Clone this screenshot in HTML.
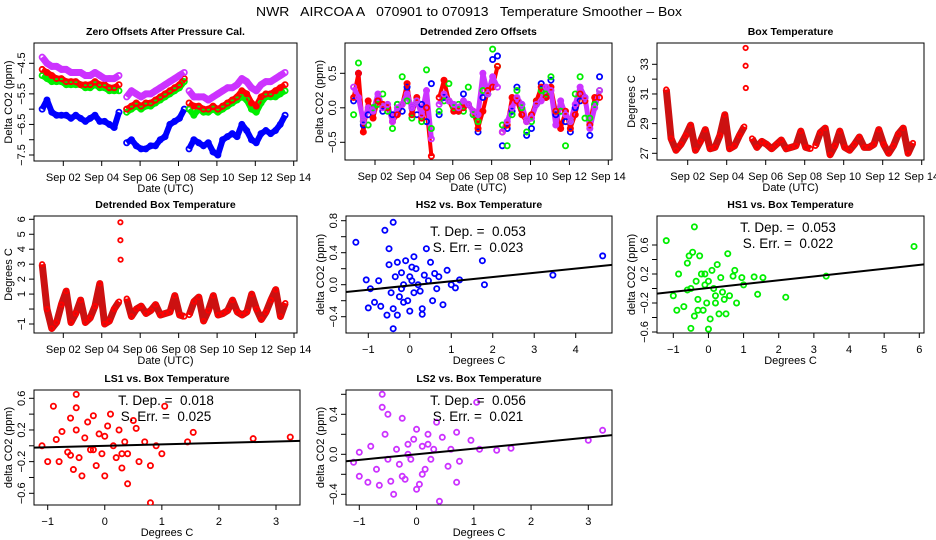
<!DOCTYPE html>
<html><head><meta charset="utf-8"><style>
html,body{margin:0;padding:0;background:#fff;}
svg{display:block;font-family:"Liberation Sans",sans-serif;}
</style></head><body>
<svg id="chart" width="936" height="540" viewBox="0 0 936 540">
<text x="469" y="16" text-anchor="middle" font-size="13" style="white-space:pre" xml:space="preserve" textLength="426" lengthAdjust="spacingAndGlyphs">NWR   AIRCOA A   070901 to 070913   Temperature Smoother – Box</text>
</svg>
<script>
// ---------- shared time base (days of Sep 2007) ----------
const times = [0.9,1.15,1.4,1.65,1.9,2.15,2.4,2.65,2.9,3.15,3.4,3.65,3.9,4.15,4.4,4.65,4.9,
 5.3,5.55,5.8,6.05,6.3,6.55,6.8,7.05,7.3,7.55,7.8,8.05,8.3,
 8.55,8.8,9.05,9.3,9.55,9.8,10.05,10.3,10.55,10.8,11.05,11.3,11.55,11.8,12.05,12.3,12.55,12.8,13.05,13.3,13.55];
const segBreaks = [17,30];
const dateTicks = [2,4,6,8,10,12,14];
const dateLabels = ["Sep 02","Sep 04","Sep 06","Sep 08","Sep 10","Sep 12","Sep 14"];

// ---------- Zero offsets after pressure cal ----------
const zeroHS2 = [-6.0,-5.7,-6.1,-6.2,-6.2,-6.2,-6.3,-6.2,-6.3,-6.4,-6.3,-6.2,-6.4,-6.4,-6.5,-6.6,-6.1,
 -7.1,-7.0,-7.2,-7.3,-7.3,-7.2,-7.2,-7.0,-6.9,-6.5,-6.4,-6.3,-6.0,
 -7.3,-7.0,-7.1,-7.2,-7.1,-7.4,-7.5,-7.0,-6.9,-6.8,-6.9,-6.5,-6.7,-7.0,-7.1,-6.8,-6.7,-6.8,-6.7,-6.5,-6.2];
const zeroHS1 = [-4.9,-5.0,-5.1,-5.1,-5.1,-5.2,-5.2,-5.2,-5.2,-5.3,-5.3,-5.2,-5.3,-5.3,-5.4,-5.4,-5.4,
 -6.1,-6.0,-5.9,-6.0,-5.9,-5.9,-5.8,-5.7,-5.6,-5.5,-5.4,-5.3,-5.1,
 -6.0,-6.2,-6.0,-6.1,-6.1,-6.0,-6.1,-6.0,-5.9,-5.8,-5.7,-5.6,-5.7,-6.0,-6.1,-5.8,-5.6,-5.6,-5.6,-5.5,-5.4];
const zeroLS1 = [-4.7,-4.8,-4.9,-5.0,-5.0,-5.1,-5.1,-5.1,-5.2,-5.2,-5.2,-5.1,-5.2,-5.2,-5.3,-5.3,-5.2,
 -6.0,-5.9,-5.8,-5.9,-5.8,-5.8,-5.7,-5.6,-5.5,-5.4,-5.3,-5.2,-5.0,
 -5.8,-5.9,-5.9,-6.0,-6.0,-5.9,-6.0,-5.9,-5.8,-5.7,-5.6,-5.4,-5.5,-5.8,-5.9,-5.6,-5.5,-5.5,-5.4,-5.3,-5.2];
const zeroLS2 = [-4.3,-4.5,-4.6,-4.6,-4.7,-4.7,-4.8,-4.8,-4.8,-4.9,-4.9,-4.8,-4.9,-5.0,-5.0,-5.0,-4.9,
 -5.6,-5.4,-5.5,-5.6,-5.5,-5.5,-5.4,-5.3,-5.2,-5.1,-5.0,-4.9,-4.8,
 -5.4,-5.6,-5.6,-5.6,-5.7,-5.6,-5.5,-5.4,-5.3,-5.3,-5.2,-5.0,-5.1,-5.3,-5.4,-5.2,-5.1,-5.1,-5.0,-4.9,-4.8];

// ---------- Detrended zero offsets ----------
const detHS2 = [0.1,0.5,-0.25,-0.1,0.0,0.1,-0.05,0.0,-0.1,0.05,-0.05,0.3,0.0,-0.1,0.05,-0.2,0.35,
 -0.1,0.15,0.1,0.0,-0.05,0.2,0.05,-0.1,-0.35,0.15,0.2,0.7,0.75,
 -0.55,-0.3,-0.05,0.3,0.05,-0.4,-0.3,0.05,0.35,0.15,0.4,-0.1,-0.05,-0.2,-0.35,0.0,0.1,0.15,-0.4,0.05,0.45];
const detHS1 = [-0.1,0.65,-0.2,-0.25,0.0,0.05,0.2,-0.05,-0.3,0.05,0.45,0.1,-0.15,0.1,-0.2,0.55,-0.3,
 -0.05,0.1,0.35,0.0,0.05,-0.05,0.3,-0.1,-0.2,0.25,0.2,0.85,0.6,
 -0.25,-0.55,-0.1,0.25,0.0,-0.35,-0.2,0.1,0.25,0.2,0.45,-0.05,-0.05,-0.55,-0.2,0.2,0.45,-0.15,-0.15,0.05,0.25];
const detLS1 = [0.15,0.5,-0.35,0.1,-0.15,0.1,0.05,0.0,-0.2,-0.1,0.05,0.35,-0.1,0.15,-0.15,0.0,-0.7,
 0.15,0.4,0.1,-0.05,-0.05,0.0,0.05,-0.05,-0.3,-0.05,0.25,0.3,0.6,
 -0.35,-0.25,0.15,0.1,-0.1,-0.2,-0.1,0.1,0.3,0.15,0.3,-0.05,-0.3,-0.05,-0.3,-0.1,0.2,0.1,-0.25,0.15,0.15];
const detLS2 = [0.3,0.15,-0.2,0.0,-0.05,0.2,0.0,0.05,-0.2,0.0,0.05,0.2,0.0,0.1,-0.1,0.25,-0.45,
 0.05,0.2,0.1,0.05,0.0,0.1,0.05,-0.05,-0.1,0.5,0.2,0.45,0.3,
 -0.35,-0.2,0.0,0.15,0.05,-0.2,-0.15,0.05,0.1,0.3,0.25,-0.25,0.1,-0.1,-0.2,0.05,0.3,0.15,-0.3,0.0,0.25];

// ---------- Box temperature ----------
const boxTemp = [31.3,28.0,27.2,27.6,28.2,28.9,27.2,27.8,28.6,27.3,27.4,28.2,29.6,27.3,27.5,28.2,28.8,
 28.0,27.4,27.8,27.6,27.3,27.6,27.9,27.3,27.4,27.5,28.5,27.4,27.3,
 27.5,28.4,28.7,26.9,27.5,28.5,27.4,27.2,27.6,28.1,27.4,27.4,27.6,28.6,27.6,27.0,27.5,28.3,28.7,27.0,27.7];
const spikeTimes = [4.97,4.97,4.98];
const spikeTemps = [34.1,32.9,31.4];
const detTemp = [3.0,0.0,-1.3,-0.9,0.3,1.2,-0.9,-0.3,0.6,-0.9,-0.6,0.2,1.7,-1.0,-0.8,0.0,0.5,
 0.7,-0.5,0.0,0.2,-0.3,-0.1,0.3,-0.4,-0.3,-0.2,0.9,-0.4,-0.5,
 -0.4,0.5,0.8,-0.8,-0.1,0.9,-0.4,-0.3,-0.1,0.6,-0.2,-0.4,-0.2,1.0,0.0,-0.7,-0.2,0.6,1.3,-0.5,0.4];
const detSpikes = [5.8,4.6,3.3];

// ---------- Scatter: HS2 ----------
const hs2X = [-1.3,-0.6,-0.4,1.75,3.45,4.65,1.8,-0.4,-1.0,-1.05,-0.95,-0.85,-0.75,-0.7,-0.55,-0.5,-0.5,-0.45,-0.4,-0.35,-0.3,-0.25,-0.2,-0.2,-0.15,-0.1,-0.05,0.0,0.0,0.05,0.1,0.1,0.15,0.2,0.25,0.3,0.35,0.4,0.45,0.5,0.55,0.6,0.65,0.7,0.8,0.9,1.0,1.1,1.2,-0.3,-0.15,0.05,0.3];
const hs2Y = [0.53,0.68,0.78,0.3,0.12,0.36,0.0,-0.55,-0.29,0.06,-0.05,-0.22,0.05,-0.27,-0.38,0.45,0.25,-0.1,-0.3,0.1,0.28,-0.15,0.15,-0.05,0.0,0.3,-0.2,0.1,-0.33,0.05,0.35,-0.1,0.2,0.0,-0.08,-0.37,0.12,0.45,0.05,0.28,-0.2,0.14,-0.05,0.1,-0.25,0.18,0.0,-0.04,0.06,-0.38,-0.22,0.22,-0.3];
const hs2Fit = [0.053,-0.01];

// ---------- Scatter: HS1 ----------
const hs1X = [-1.2,-0.4,5.85,3.35,2.2,-0.5,0.0,1.3,1.55,0.75,-1.0,-0.9,-0.85,-0.7,-0.6,-0.55,-0.5,-0.45,-0.4,-0.35,-0.3,-0.25,-0.2,-0.15,-0.1,-0.05,0.0,0.05,0.1,0.15,0.2,0.25,0.3,0.35,0.4,0.5,0.55,0.6,0.7,0.8,0.95,1.0,1.4,-0.3,-0.1,0.2,0.45,-0.6];
const hs1Y = [0.66,0.85,0.58,0.17,-0.12,-0.55,-0.56,0.16,0.15,0.25,-0.1,-0.3,0.2,-0.25,0.35,0.45,0.0,0.5,-0.38,0.1,-0.15,0.45,0.2,-0.3,0.05,-0.2,0.1,-0.42,0.25,0.0,-0.2,0.33,-0.35,0.15,-0.05,-0.35,0.48,-0.1,0.17,-0.2,0.15,0.05,-0.08,-0.3,0.2,-0.1,-0.15,-0.02];
const hs1Fit = [0.053,0.007];

// ---------- Scatter: LS1 ----------
const ls1X = [-1.1,-1.0,-0.9,-0.5,-0.5,0.8,0.4,1.05,1.55,2.6,3.25,1.45,1.0,-0.85,-0.8,-0.75,-0.65,-0.6,-0.55,-0.5,-0.45,-0.4,-0.35,-0.3,-0.25,-0.2,-0.15,-0.1,-0.05,0.0,0.05,0.1,0.15,0.2,0.25,0.3,0.35,0.4,0.5,0.55,0.6,0.7,0.8,0.9,-0.2,0.0,0.3,-0.6];
const ls1Y = [0.0,-0.2,0.5,0.65,0.48,-0.72,-0.48,0.5,0.17,0.09,0.11,0.05,-0.1,0.08,-0.2,0.18,-0.08,0.35,-0.3,0.2,-0.15,-0.38,0.1,0.3,-0.05,0.38,-0.25,0.15,-0.1,-0.38,0.25,0.4,0.0,-0.15,0.2,-0.1,0.05,-0.1,0.32,0.22,-0.2,0.05,-0.25,0.0,-0.05,0.12,-0.28,-0.12];
const ls1Fit = [0.018,0.0];

// ---------- Scatter: LS2 ----------
const ls2X = [-1.1,-1.0,-0.6,-0.6,-0.5,-0.4,0.4,1.05,3.0,3.25,1.65,1.4,0.7,-0.65,-0.85,-1.0,-0.8,-0.7,-0.55,-0.5,-0.45,-0.35,-0.3,-0.25,-0.2,-0.15,-0.1,-0.05,0.0,0.05,0.1,0.15,0.2,0.25,0.3,0.35,0.45,0.55,0.6,0.7,0.75,0.95,1.1,-0.25,0.0,0.2,-0.15,0.1];
const ls2Y = [-0.08,0.02,0.6,0.47,0.4,-0.4,-0.47,0.52,0.14,0.24,0.06,0.04,-0.28,-0.31,-0.28,-0.22,0.08,-0.15,0.2,-0.05,-0.27,0.05,-0.1,0.36,-0.25,0.1,-0.05,0.15,0.25,-0.3,0.08,-0.15,0.2,-0.05,0.05,0.32,0.17,-0.12,0.05,0.22,-0.07,0.14,0.05,-0.22,-0.35,0.1,0.0,-0.2];
const ls2Fit = [0.056,0.0];

const NS = "http://www.w3.org/2000/svg";
const svg = document.getElementById("chart");
function mk(tag, attrs, parent){const e=document.createElementNS(NS,tag);for(const k in attrs)e.setAttribute(k,attrs[k]);(parent||svg).appendChild(e);return e;}
function lin(v1,p1,v2,p2){const k=(p2-p1)/(v2-v1);return v=>p1+(v-v1)*k;}

function panel(o){
  const g=mk("g",{});
  
  
  const sx=o.sx, sy=o.sy;
  const clip="clip-"+o.name;
  const cp=mk("clipPath",{id:clip},g); mk("rect",{x:o.x0,y:o.y0,width:o.x1-o.x0,height:o.y1-o.y0},cp);
  const t=mk("text",{x:(o.x0+o.x1)/2,y:o.y0-8,"text-anchor":"middle","font-size":"10.5","font-weight":"bold"},g);
  t.textContent=o.title;
  
  
  const xa=mk("g",{},g);
  
  
  mk("line",{x1:sx(o.xt[0]),x2:sx(o.xt[o.xt.length-1]),y1:o.y1,y2:o.y1,stroke:"#000"},xa);
  o.xt.forEach((v,i)=>{
    mk("line",{x1:sx(v),x2:sx(v),y1:o.y1,y2:o.y1+5,stroke:"#000"},xa);
    if(o.xl[i]!==""){const tt=mk("text",{x:sx(v),y:o.y1+20,"text-anchor":"middle","font-size":"11"},xa);tt.textContent=o.xl[i];
      
      }
  });
  const xt=mk("text",{x:(o.x0+o.x1)/2,y:o.y1+31,"text-anchor":"middle","font-size":"11"},g);xt.textContent=o.xtitle;
  
  
  const ya=mk("g",{},g);
  
  
  mk("line",{x1:o.x0,x2:o.x0,y1:sy(o.yt[0]),y2:sy(o.yt[o.yt.length-1]),stroke:"#000"},ya);
  o.yt.forEach((v,i)=>{
    mk("line",{x1:o.x0-5,x2:o.x0,y1:sy(v),y2:sy(v),stroke:"#000"},ya);
    if(o.yl[i]!==""){const tx=o.x0-9,ty=sy(v);const tt=mk("text",{x:tx,y:ty,"text-anchor":"middle","font-size":"11",transform:`rotate(-90 ${tx} ${ty})`},ya);tt.textContent=o.yl[i];
      
      }
  });
  const yx=o.x0-22, yy=(o.y0+o.y1)/2;
  const yt=mk("text",{x:yx,y:yy,"text-anchor":"middle","font-size":"11",transform:`rotate(-90 ${yx} ${yy})`},g);yt.textContent=o.ytitle;
  
  
  const box=mk("rect",{x:o.x0,y:o.y0,width:o.x1-o.x0,height:o.y1-o.y0,fill:"none",stroke:"#000"},g);
  
  
  const plot=mk("g",{"clip-path":`url(#${clip})`},g);
  return {g:plot,sx,sy,o};
}
function pts(p,xs,ys,color,name,r){
  const grp=mk("g",{},p.g);
  
  
  xs.forEach((x,i)=>{
    const c=mk("circle",{cx:p.sx(x),cy:p.sy(ys[i]),r:r||2.6,fill:"none",stroke:color,"stroke-width":"1.8"},grp);
    
    
  });
}
function band(p,xs,ys,color,w,name){
  let s=0;[...segBreaks,xs.length].forEach(e=>{
    const d=xs.slice(s,e).map((x,i)=>`${i?"L":"M"}${p.sx(x).toFixed(1)},${p.sy(ys[s+i]).toFixed(1)}`).join("");
    const pa=mk("path",{d,fill:"none",stroke:color,"stroke-width":w,"stroke-linejoin":"round"},p.g);
    
    
    s=e;});
}
function fit(p,f,xa,xb){
  const l=mk("line",{x1:p.sx(xa),x2:p.sx(xb),y1:p.sy(f[1]+f[0]*xa),y2:p.sy(f[1]+f[0]*xb),stroke:"#000","stroke-width":"2"},p.g);
  
  
}
function ann(p,cx,y,a,b){
  [a,b].forEach((s,i)=>{const t=mk("text",{x:cx,y:y+i*16,"text-anchor":"middle","font-size":"13.5","style":"white-space:pre"});t.textContent=s;
    
    });
}

const P1=panel({name:"zero-offsets-panel",title:"Zero Offsets After Pressure Cal.",x0:34,x1:297,y0:43,y1:161,
  sx:lin(2,63.3,14,293.7),sy:lin(-4.5,63.3,-7.5,155),xt:dateTicks,xl:dateLabels,xtitle:"Date (UTC)",
  yt:[-7.5,-7,-6.5,-6,-5.5,-5,-4.5],yl:["−7.5","","−6.5","","−5.5","","−4.5"],ytitle:"Delta CO2 (ppm)"});
band(P1,times,zeroHS2,"#0000ff",6,"hs2-series");band(P1,times,zeroHS1,"#00ee00",6,"hs1-series");
band(P1,times,zeroLS1,"#ff0000",6,"ls1-series");band(P1,times,zeroLS2,"#cc33ff",7,"ls2-series");
pts(P1,times,zeroHS2,"#0000ff","hs2-series");pts(P1,times,zeroHS1,"#00ee00","hs1-series");
pts(P1,times,zeroLS1,"#ff0000","ls1-series");pts(P1,times,zeroLS2,"#cc33ff","ls2-series");

const P2=panel({name:"detrended-zero-panel",title:"Detrended Zero Offsets",x0:345,x1:612,y0:43,y1:160,
  sx:lin(2,375,14,608.3),sy:lin(0.5,73.3,-0.5,142.3),xt:dateTicks,xl:dateLabels,xtitle:"Date (UTC)",
  yt:[-0.5,0,0.5],yl:["−0.5","0.0","0.5"],ytitle:"Delta CO2  (ppm)"});
band(P2,times,detLS1,"#ff0000",4,"ls1-series");band(P2,times,detLS2,"#cc33ff",5,"ls2-series");
pts(P2,times,detHS2,"#0000ff","hs2-series");pts(P2,times,detHS1,"#00ee00","hs1-series");
pts(P2,times,detLS1,"#ff0000","ls1-series");pts(P2,times,detLS2,"#cc33ff","ls2-series");

const P3=panel({name:"box-temperature-panel",title:"Box Temperature",x0:657,x1:924,y0:43,y1:160,
  sx:lin(2,687.7,14,921.7),sy:lin(27,153.3,33,64.3),xt:dateTicks,xl:dateLabels,xtitle:"Date (UTC)",
  yt:[27,28,29,30,31,32,33],yl:["27","","29","","31","","33"],ytitle:"Degrees C"});
band(P3,times,boxTemp,"#cc1111",7,"box-temp");
pts(P3,times,boxTemp,"#ff0000","box-temp",2.2);pts(P3,spikeTimes,spikeTemps,"#ff0000","box-temp-spike",2.2);

const P4=panel({name:"detrended-box-temp-panel",title:"Detrended Box Temperature",x0:34,x1:297,y0:216,y1:333,
  sx:lin(2,63.3,14,294),sy:lin(6,219.3,-1,324),xt:dateTicks,xl:dateLabels,xtitle:"Date (UTC)",
  yt:[-1,0,1,2,3,4,5,6],yl:["−1","","1","2","3","4","5","6"],ytitle:"Degrees C"});
band(P4,times,detTemp,"#cc1111",7,"det-temp");
pts(P4,times,detTemp,"#ff0000","det-temp",2.2);pts(P4,spikeTimes,detSpikes,"#ff0000","det-temp-spike",2.2);

const P5=panel({name:"hs2-scatter-panel",title:"HS2 vs. Box Temperature",x0:346,x1:612,y0:216,y1:333,
  sx:lin(-1,368.3,4,575.7),sy:lin(0.8,220.7,-0.4,316.7),xt:[-1,0,1,2,3,4],xl:["−1","0","1","2","3","4"],xtitle:"Degrees C",
  yt:[-0.4,-0.2,0,0.2,0.4,0.6,0.8],yl:["−0.4","","0.0","","0.4","","0.8"],ytitle:"delta CO2 (ppm)"});
pts(P5,hs2X,hs2Y,"#0000ff","hs2-scatter");fit(P5,hs2Fit,-1.6,5);
ann(P5,478,236,"T. Dep. =  0.053","S. Err. =  0.023");

const P6=panel({name:"hs1-scatter-panel",title:"HS1 vs. Box Temperature",x0:657,x1:924,y0:216,y1:333,
  sx:lin(-1,673.3,6,919.3),sy:lin(0.6,245,-0.6,332),xt:[-1,0,1,2,3,4,5,6],xl:["−1","0","1","2","3","4","5","6"],xtitle:"Degrees C",
  yt:[-0.6,-0.4,-0.2,0,0.2,0.4,0.6],yl:["−0.6","","−0.2","","0.2","","0.6"],ytitle:"delta CO2 (ppm)"});
pts(P6,hs1X,hs1Y,"#00ee00","hs1-scatter");fit(P6,hs1Fit,-1.5,6.2);
ann(P6,788,232,"T. Dep. =  0.053","S. Err. =  0.022");

const P7=panel({name:"ls1-scatter-panel",title:"LS1 vs. Box Temperature",x0:34,x1:300,y0:390,y1:505,
  sx:lin(-1,47.7,3,276),sy:lin(0.6,398.3,-0.6,493.3),xt:[-1,0,1,2,3],xl:["−1","0","1","2","3"],xtitle:"Degrees C",
  yt:[-0.6,-0.4,-0.2,0,0.2,0.4,0.6],yl:["−0.6","","−0.2","","0.2","","0.6"],ytitle:"delta CO2 (ppm)"});
pts(P7,ls1X,ls1Y,"#ff0000","ls1-scatter");fit(P7,ls1Fit,-1.3,3.5);
ann(P7,166,405,"T. Dep. =  0.018","S. Err. =  0.025");

const P8=panel({name:"ls2-scatter-panel",title:"LS2 vs. Box Temperature",x0:346,x1:612,y0:390,y1:505,
  sx:lin(-1,359.3,3,588.3),sy:lin(0.4,414.3,-0.4,494.3),xt:[-1,0,1,2,3],xl:["−1","0","1","2","3"],xtitle:"Degrees C",
  yt:[-0.4,-0.2,0,0.2,0.4,0.6],yl:["−0.4","","0.0","","0.4",""],ytitle:"delta CO2 (ppm)"});
pts(P8,ls2X,ls2Y,"#cc33ff","ls2-scatter");fit(P8,ls2Fit,-1.3,3.5);
ann(P8,478,405,"T. Dep. =  0.056","S. Err. =  0.021");
</script>
</body></html>
